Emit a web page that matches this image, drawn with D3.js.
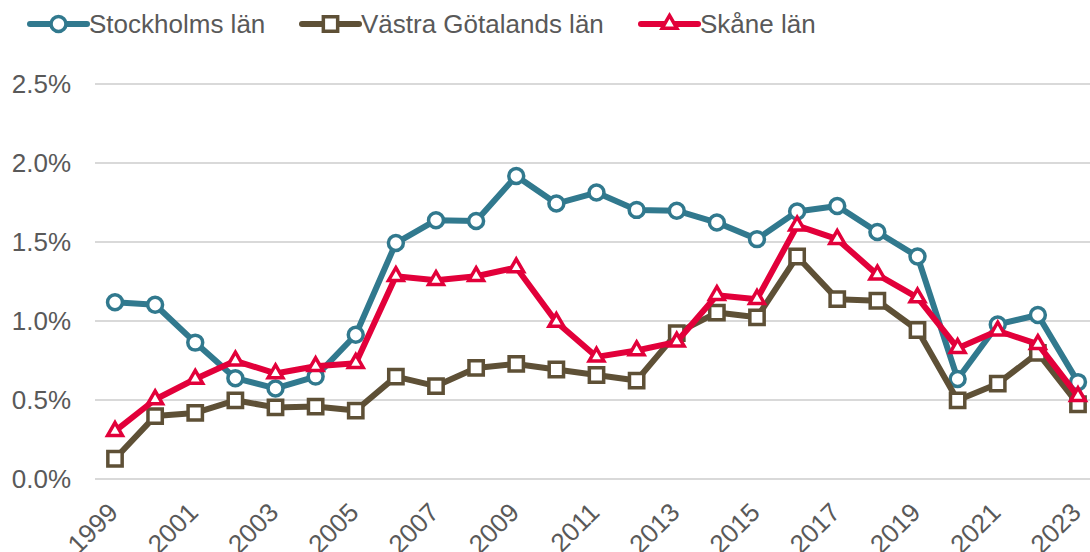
<!DOCTYPE html>
<html>
<head>
<meta charset="utf-8">
<script src="https://cdn.jsdelivr.net/npm/d3@7"></script>
<style>
    body { margin: 0; background: #fff; }
    svg { display: block; font-family: "Liberation Sans", Arial, sans-serif; }
    .grid line { stroke: #d9d9d9; stroke-width: 2; }
    .axis text { fill: #595959; font-size: 26px; }
</style>
</head>
<body>
<svg width="1090" height="552"></svg>
<script>
var years = d3.range(1999, 2024);
var tickYears = years.filter(function (d) { return d % 2 === 1; });
var yTicks = [0, 0.5, 1.0, 1.5, 2.0, 2.5];

var stockholm = [1.115, 1.10, 0.86, 0.635, 0.57, 0.645, 0.91, 1.49, 1.635, 1.63, 1.915, 1.74,
    1.81, 1.70, 1.695, 1.62, 1.515, 1.69, 1.725, 1.56, 1.405, 0.63, 0.975, 1.035, 0.61];
var vastra = [0.125, 0.395, 0.415, 0.495, 0.45, 0.455, 0.43, 0.645, 0.585, 0.70, 0.725, 0.69,
    0.655, 0.62, 0.92, 1.05, 1.02, 1.405, 1.135, 1.125, 0.94, 0.495, 0.60, 0.795, 0.47];
var skane = [0.30, 0.50, 0.63, 0.745, 0.665, 0.71, 0.73, 1.28, 1.255, 1.28, 1.335, 0.99,
    0.77, 0.81, 0.865, 1.16, 1.135, 1.60, 1.515, 1.29, 1.145, 0.825, 0.935, 0.85, 0.52];

var seriesNames = ["Stockholms län", "Västra Götalands län", "Skåne län"];
var seriesValues = [stockholm, vastra, skane];
var seriesColors = ["#31798e", "#5e5036", "#e2003a"];
var seriesSymbols = [d3.symbolCircle, d3.symbolSquare, d3.symbolTriangle];
var symbolSizes = [175, 205, 95];

var svg = d3.select("svg");
var width = +svg.attr("width");

var x = d3.scaleLinear().domain([1999, 2023]).range([115, 1078]);
var y = d3.scaleLinear().domain([0, 2.5]).range([478.5, 83.5]);

// gridlines + y labels
var yAxis = svg.append("g")
    .attr("class", "axis grid")
    .attr("transform", "translate(95,0)")
    .call(d3.axisLeft(y)
        .tickValues(yTicks)
        .tickSize(-(width - 95))
        .tickPadding(24)
        .tickFormat(function (d) { return d.toFixed(1) + "%"; }));
yAxis.select(".domain").remove();
yAxis.selectAll("text").attr("dy", "0.36em");

// x labels, rotated (tick groups already sit at x(d))
var xAxis = svg.append("g")
    .attr("class", "axis")
    .call(d3.axisBottom(x)
        .tickValues(tickYears)
        .tickSize(0)
        .tickFormat(d3.format("d")));
xAxis.select(".domain").remove();
xAxis.selectAll("text")
    .attr("x", 0)
    .attr("y", 0)
    .attr("dy", 0)
    .attr("text-anchor", "end")
    .attr("transform", "translate(4,514) rotate(-45)");

var line = d3.line()
    .x(function (d, i) { return x(years[i]); })
    .y(function (d) { return y(d); });

seriesValues.forEach(function (vals, s) {
    var g = svg.append("g").attr("class", "series");
    g.append("path")
        .datum(vals)
        .attr("fill", "none")
        .attr("stroke", seriesColors[s])
        .attr("stroke-width", 6)
        .attr("stroke-linejoin", "round")
        .attr("d", line);
    g.selectAll("path.mark")
        .data(vals)
        .enter().append("path")
        .attr("class", "mark")
        .attr("d", d3.symbol().type(seriesSymbols[s]).size(symbolSizes[s]))
        .attr("transform", function (d, i) {
            return "translate(" + x(years[i]) + "," + y(d) + ")";
        })
        .attr("fill", "#fff")
        .attr("stroke", seriesColors[s])
        .attr("stroke-width", 3.5);
});

// legend
var legendX = [30, 302, 641];
var legend = svg.append("g").attr("class", "legend");
seriesNames.forEach(function (name, s) {
    var lg = legend.append("g").attr("transform", "translate(" + legendX[s] + ",24)");
    lg.append("line")
        .attr("x1", 0).attr("x2", 57)
        .attr("stroke", seriesColors[s])
        .attr("stroke-width", 6)
        .attr("stroke-linecap", "round");
    lg.append("path")
        .attr("d", d3.symbol().type(seriesSymbols[s]).size(symbolSizes[s]))
        .attr("transform", "translate(28.5,0)")
        .attr("fill", "#fff")
        .attr("stroke", seriesColors[s])
        .attr("stroke-width", 3.5);
    lg.append("text")
        .attr("x", 59)
        .attr("dy", "0.36em")
        .attr("fill", "#595959")
        .attr("font-size", 26)
        .text(name);
});
</script>
</body>
</html>
